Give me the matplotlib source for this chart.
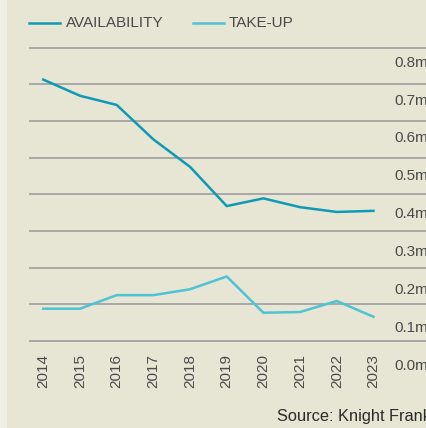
import matplotlib
matplotlib.use("Agg")
import matplotlib.pyplot as plt
from matplotlib.lines import Line2D
from matplotlib.patches import Rectangle

years = [2014, 2015, 2016, 2017, 2018, 2019, 2020, 2021, 2022, 2023]
availability = [0.713, 0.669, 0.644, 0.550, 0.475, 0.368, 0.389, 0.365, 0.352, 0.355]
take_up = [0.088, 0.088, 0.125, 0.125, 0.141, 0.176, 0.077, 0.079, 0.109, 0.066]
y_ticks = [0.0, 0.1, 0.2, 0.3, 0.4, 0.5, 0.6, 0.7, 0.8]
y_labels = ["0.0m", "0.1m", "0.2m", "0.3m", "0.4m", "0.5m", "0.6m", "0.7m", "0.8m"]

BG = "#e7e5d3"
STRIP = "#eff0e4"
C_AVAIL = "#0e9ab4"
C_TAKE = "#4dc4d5"
GRID = "#a3a3a3"
TEXT = "#4a4a4a"

plt.rcParams["font.family"] = ["Liberation Sans", "DejaVu Sans"]
FS = 11

W, H = 427, 428
fig = plt.figure(figsize=(W / 100, H / 100), dpi=100, facecolor=BG)
fig.patches.append(Rectangle((0, 0), 7 / W, 1, transform=fig.transFigure,
                             facecolor=STRIP, edgecolor="none", zorder=0))

# axes: top 40.4px, bottom 348.3px, left 29px to right edge
ax = fig.add_axes([29 / W, (H - 348.3) / H, (W - 29) / W, (348.3 - 40.4) / H])
ax.set_facecolor("none")
ax.set_xlim(2013.61, 2024.46)
ax.set_ylim(-0.02, 0.82)

for v in y_ticks:
    ax.axhline(v, color=GRID, lw=1.3, zorder=1)

ax.plot(years, availability, color=C_AVAIL, lw=1.8, zorder=3, solid_joinstyle="miter")
ax.plot(years, take_up, color=C_TAKE, lw=1.8, zorder=3, solid_joinstyle="miter")

for spine in ax.spines.values():
    spine.set_visible(False)
ax.set_yticks([])
ax.set_xticks(years)
ax.set_xticklabels([str(y) for y in years], rotation=90, fontsize=FS, color=TEXT)
ax.tick_params(axis="x", length=0, pad=4)

# right-hand value labels sit below each gridline
lab_x = (394 - 29) / (W - 29)
for v, lab in zip(y_ticks, y_labels):
    ax.text(lab_x, v * 1.034 - 0.068, lab, transform=ax.get_yaxis_transform(),
            fontsize=FS, color=TEXT, ha="left", va="center", clip_on=False)

# legend
ly = 1 - 22.7 / H
fig.add_artist(Line2D([29 / W, 60 / W], [ly, ly], color=C_AVAIL, lw=1.8))
fig.text(65.7 / W, ly, "AVAILABILITY", fontsize=FS, color=TEXT, va="center")
fig.add_artist(Line2D([193 / W, 224 / W], [ly, ly], color=C_TAKE, lw=1.8))
fig.text(229 / W, ly, "TAKE-UP", fontsize=FS, color=TEXT, va="center")

fig.text(276.7 / W, 1 - 417 / H, "Source: Knight Frank", fontsize=11.8, color="#2a2a2a",
         va="center", ha="left")

fig.savefig("out.png", dpi=100, facecolor=BG)
